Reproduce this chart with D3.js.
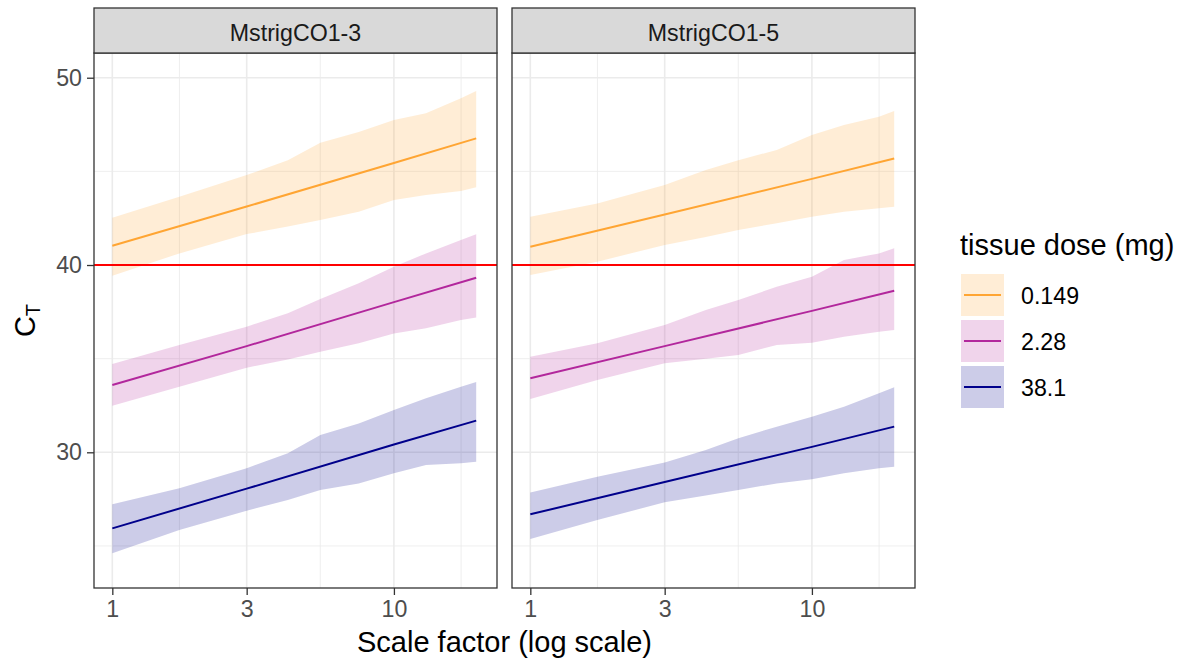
<!DOCTYPE html>
<html lang="en">
<head>
    <meta charset="UTF-8">
    <title>CT vs scale factor</title>
    <script src="https://d3js.org/d3.v7.min.js"></script>
    <style>
        body { margin: 0; background: #fff; }
        svg { font-family: "Liberation Sans", Arial, sans-serif; display: block; }
    </style>
</head>
<body>
    <div class="chart"></div>

    <script>
        // facets and groups
        const facets = ["MstrigCO1-3", "MstrigCO1-5"];
        const doses = ["0.149", "2.28", "38.1"];
        const lineColors = ["#FFA533", "#B2279C", "#00008B"];

        // tick labels
        const xBreaks = [1, 3, 10];
        const xMinor = [1.732, 5.477, 17.32];
        const yBreaks = [30, 40, 50];
        const yMinor = [25, 35, 45];
        const threshold = 40;

        // fitted lines (straight on log x), read at these x
        const lineX = [1, 3, 10, 19.6];
        const fit13 = [
            [41.03, 43.12, 45.45, 46.76],
            [33.59, 35.67, 38.02, 39.32],
            [25.94, 28.06, 30.42, 31.69]
        ];
        const fit15 = [
            [40.98, 42.70, 44.60, 45.69],
            [33.95, 35.67, 37.55, 38.63],
            [26.69, 28.41, 30.29, 31.37]
        ];

        // interval bands
        const bandX = [1, 1.73, 3, 4.2, 5.48, 7.5, 10, 13, 17.3, 19.6];
        const upper13 = [
            [42.53, 43.65, 44.80, 45.60, 46.53, 47.10, 47.74, 48.10, 48.90, 49.29],
            [34.71, 35.73, 36.71, 37.42, 38.18, 39.02, 39.91, 40.62, 41.33, 41.64],
            [27.22, 28.08, 29.15, 29.95, 30.92, 31.54, 32.26, 32.88, 33.50, 33.76]
        ];
        const lower13 = [
            [39.43, 40.62, 41.65, 42.05, 42.40, 42.85, 43.47, 43.74, 43.95, 44.15],
            [32.49, 33.50, 34.52, 34.95, 35.37, 35.82, 36.35, 36.62, 37.06, 37.20],
            [24.61, 25.85, 26.88, 27.45, 27.99, 28.34, 28.88, 29.32, 29.41, 29.50]
        ];
        const upper15 = [
            [42.58, 43.29, 44.27, 45.07, 45.60, 46.14, 46.94, 47.47, 47.92, 48.22],
            [35.10, 35.82, 36.80, 37.60, 38.13, 38.84, 39.38, 40.27, 40.62, 40.89],
            [27.86, 28.70, 29.45, 30.12, 30.75, 31.37, 31.90, 32.43, 33.15, 33.47]
        ];
        const lower15 = [
            [39.47, 40.18, 41.07, 41.50, 41.87, 42.23, 42.58, 42.85, 43.03, 43.11],
            [32.85, 33.86, 34.75, 35.00, 35.20, 35.73, 35.85, 36.17, 36.44, 36.53],
            [25.37, 26.39, 27.33, 27.70, 27.99, 28.34, 28.56, 28.88, 29.15, 29.23]
        ];

        const fits = [fit13, fit15];
        const uppers = [upper13, upper15];
        const lowers = [lower13, lower15];

        // layout
        const svgWidth = 1184, svgHeight = 659;
        const panelLeft = [94, 512];
        const panelW = 403;
        const stripTop = 8, panelTop = 53, panelBottom = 588;
        const small = 23.2, base = 29;

        const svg = d3.select('.chart')
            .append('svg')
            .attr('width', svgWidth)
            .attr('height', svgHeight);

        // log x with 5% expansion, y limits as in the plot
        const lx0 = Math.log10(1), lx1 = Math.log10(20), pad = (lx1 - lx0) * 0.05;
        const yScale = d3.scaleLinear()
            .domain([22.755, 51.32])
            .range([panelBottom, panelTop]);

        facets.forEach((name, p) => {
            const x0 = panelLeft[p];
            const xScale = d3.scaleLog()
                .domain([Math.pow(10, lx0 - pad), Math.pow(10, lx1 + pad)])
                .range([x0, x0 + panelW]);

            const g = svg.append('g');

            g.append('rect')
                .attr('x', x0).attr('y', panelTop)
                .attr('width', panelW).attr('height', panelBottom - panelTop)
                .attr('fill', '#fff');

            // grid
            g.selectAll('.ymin').data(yMinor).enter().append('line')
                .attr('x1', x0).attr('x2', x0 + panelW)
                .attr('y1', d => yScale(d)).attr('y2', d => yScale(d))
                .attr('stroke', '#EBEBEB').attr('stroke-width', 0.8);
            g.selectAll('.xmin').data(xMinor).enter().append('line')
                .attr('x1', d => xScale(d)).attr('x2', d => xScale(d))
                .attr('y1', panelTop).attr('y2', panelBottom)
                .attr('stroke', '#EBEBEB').attr('stroke-width', 0.8);
            g.selectAll('.ymaj').data(yBreaks).enter().append('line')
                .attr('x1', x0).attr('x2', x0 + panelW)
                .attr('y1', d => yScale(d)).attr('y2', d => yScale(d))
                .attr('stroke', '#EBEBEB').attr('stroke-width', 1.6);
            g.selectAll('.xmaj').data(xBreaks).enter().append('line')
                .attr('x1', d => xScale(d)).attr('x2', d => xScale(d))
                .attr('y1', panelTop).attr('y2', panelBottom)
                .attr('stroke', '#EBEBEB').attr('stroke-width', 1.6);

            // bands
            doses.forEach((dose, i) => {
                const band = bandX.map((x, k) => ({x: x, lo: lowers[p][i][k], hi: uppers[p][i][k]}));
                const area = d3.area()
                    .x(d => xScale(d.x))
                    .y0(d => yScale(d.lo))
                    .y1(d => yScale(d.hi));
                g.append('path')
                    .datum(band)
                    .attr('fill', lineColors[i])
                    .attr('fill-opacity', 0.2)
                    .attr('d', area);
            });

            // threshold
            g.append('line')
                .attr('x1', x0).attr('x2', x0 + panelW)
                .attr('y1', yScale(threshold)).attr('y2', yScale(threshold))
                .attr('stroke', '#FF0000').attr('stroke-width', 2);

            // fitted lines
            doses.forEach((dose, i) => {
                const pts = lineX.map((x, k) => ({x: x, y: fits[p][i][k]}));
                const line = d3.line()
                    .x(d => xScale(d.x))
                    .y(d => yScale(d.y));
                g.append('path')
                    .datum(pts)
                    .attr('fill', 'none')
                    .attr('stroke', lineColors[i])
                    .attr('stroke-width', 2)
                    .attr('d', line);
            });

            // panel border
            g.append('rect')
                .attr('x', x0).attr('y', panelTop)
                .attr('width', panelW).attr('height', panelBottom - panelTop)
                .attr('fill', 'none').attr('stroke', '#333333').attr('stroke-width', 1.3);

            // strip
            g.append('rect')
                .attr('x', x0).attr('y', stripTop)
                .attr('width', panelW).attr('height', panelTop - stripTop)
                .attr('fill', '#D9D9D9').attr('stroke', '#333333').attr('stroke-width', 1.3);
            g.append('text')
                .attr('x', x0 + panelW / 2).attr('y', 41)
                .attr('text-anchor', 'middle')
                .attr('font-size', small)
                .attr('fill', '#1A1A1A')
                .text(name);

            // x axis
            const xAxis = g.append('g')
                .attr('transform', `translate(0,${panelBottom})`)
                .call(d3.axisBottom(xScale).tickValues(xBreaks).tickFormat(d3.format('d')).tickSize(7).tickPadding(6));
            xAxis.select('.domain').remove();
            xAxis.selectAll('line').attr('stroke', '#333333').attr('stroke-width', 1.3);
            xAxis.selectAll('text').attr('font-size', small).attr('fill', '#4D4D4D')
                .attr('font-family', '"Liberation Sans", Arial, sans-serif');
        });

        // y axis (left panel only)
        const yAxis = svg.append('g')
            .attr('transform', `translate(${panelLeft[0]},0)`)
            .call(d3.axisLeft(yScale).tickValues(yBreaks).tickSize(7).tickPadding(5));
        yAxis.select('.domain').remove();
        yAxis.selectAll('line').attr('stroke', '#333333').attr('stroke-width', 1.3);
        yAxis.selectAll('text').attr('font-size', small).attr('fill', '#4D4D4D')
            .attr('font-family', '"Liberation Sans", Arial, sans-serif');

        // axis titles
        svg.append('text')
            .attr('x', (panelLeft[0] + panelLeft[1] + panelW) / 2)
            .attr('y', 652)
            .attr('text-anchor', 'middle')
            .attr('font-size', base)
            .attr('fill', '#000')
            .text('Scale factor (log scale)');

        const yt = svg.append('text')
            .attr('transform', `translate(35,${(panelTop + panelBottom) / 2}) rotate(-90)`)
            .attr('text-anchor', 'middle')
            .attr('font-size', base)
            .attr('fill', '#000');
        yt.append('tspan').text('C');
        yt.append('tspan').attr('dy', 5).attr('font-size', 20).text('T');

        // legend
        const legX = 961, legY = 274, keyW = 43, keyH = 42, keyGap = 4;
        svg.append('text')
            .attr('x', 960).attr('y', 255)
            .attr('font-size', base)
            .attr('fill', '#000')
            .text('tissue dose (mg)');

        doses.forEach((dose, i) => {
            const ky = legY + i * (keyH + keyGap);
            svg.append('rect')
                .attr('x', legX).attr('y', ky)
                .attr('width', keyW).attr('height', keyH)
                .attr('fill', lineColors[i]).attr('fill-opacity', 0.2);
            svg.append('line')
                .attr('x1', legX + 3).attr('x2', legX + keyW - 3)
                .attr('y1', ky + keyH / 2).attr('y2', ky + keyH / 2)
                .attr('stroke', lineColors[i]).attr('stroke-width', 2);
            svg.append('text')
                .attr('x', 1021).attr('y', ky + keyH / 2 + 8.5)
                .attr('font-size', small)
                .attr('fill', '#000')
                .text(dose);
        });
    </script>
</body>
</html>
